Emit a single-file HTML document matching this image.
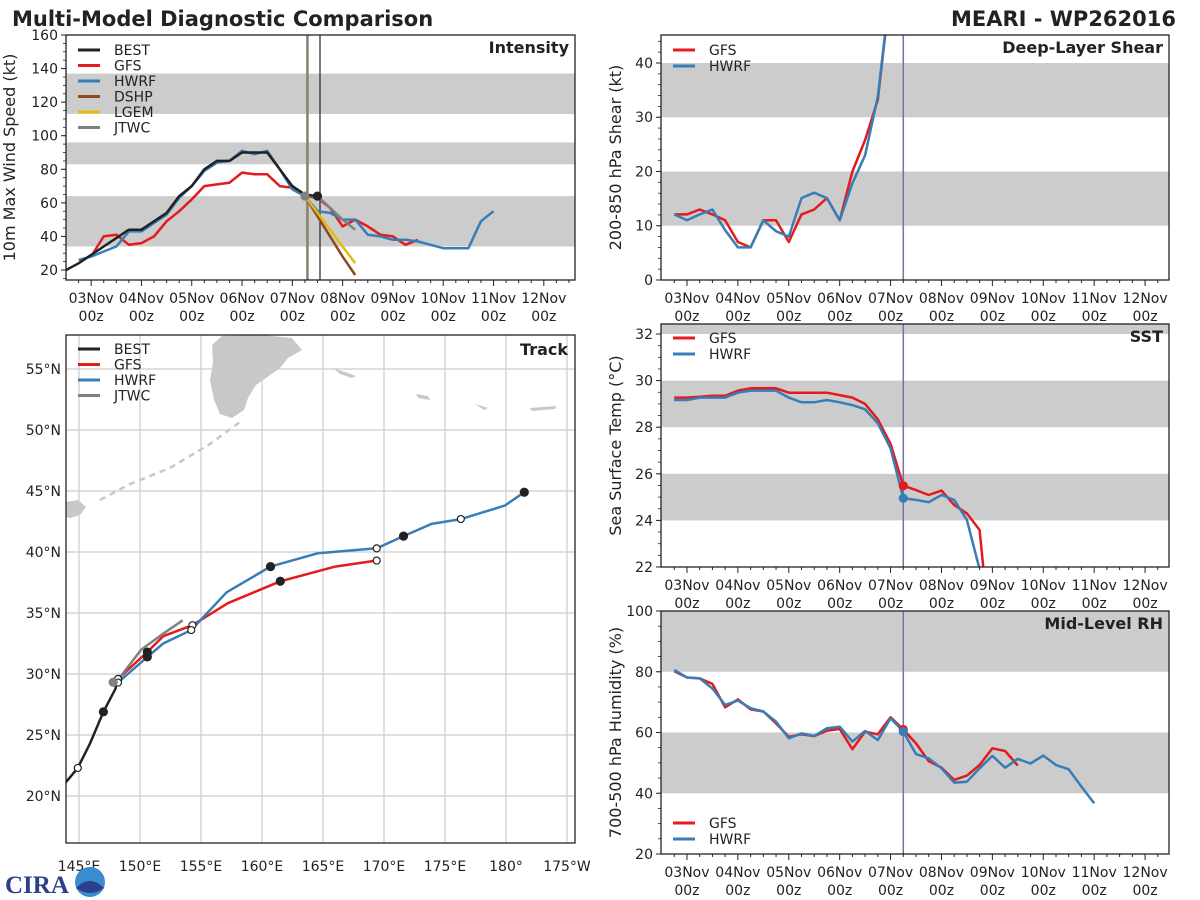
<!DOCTYPE html>
<html><head><meta charset="utf-8"><style>
html,body{margin:0;padding:0;background:#fff;}
svg{display:block;font-family:"DejaVu Sans","Liberation Sans",sans-serif;}
</style></head><body>
<svg id="fig" width="1200" height="900" viewBox="0 0 1200 900" xmlns="http://www.w3.org/2000/svg">
<text x="12" y="26" font-size="21" font-weight="bold" fill="#222">Multi-Model Diagnostic Comparison</text>
<text x="1176" y="26" font-size="21" font-weight="bold" fill="#222" text-anchor="end">MEARI - WP262016</text>
<g id="logo">
<text x="5" y="893" font-size="25" font-weight="bold" fill="#2b3f8a" font-family="Liberation Serif, serif">CIRA</text>
<circle cx="90" cy="882" r="15" fill="#3a8bd0"/>
<path d="M76 888 Q90 874 104 888 Q90 898 76 888Z" fill="#2b3f8a"/>
</g>
</svg>
<script>
// ---------- data ----------
const dayLabels=["03Nov","04Nov","05Nov","06Nov","07Nov","08Nov","09Nov","10Nov","11Nov","12Nov"];
const bestStart=-0.5;
const bestInt=[20,24,29,34,39,44,44,49,54,64,70,80,85,85,90,90,90,80,70,65,64];
const gfsIntStart=0;
const gfsInt=[28,40,41,35,36,40,49,55,62,70,71,72,78,77,77,70,69,64,63,57,46,50,46,41,40,35,38];
const hwrfIntStart=-0.25;
const hwrfInt=[26,28,31,34,43,43,48,53,63,70,79,84,85,91,89,91,80,68,64,55,54,50,50,41,40,38,38,37,35,33,33,33,49,55];
const fcstStart=4.25;
const dshpInt=[64,52,40,28,17];
const lgemInt=[64,54,44,34,24];
const jtwcInt=[64,64,57,50,44];
const intTicks=[20,40,60,80,100,120,140,160];
const shearStart=-0.25;
const gfsShear=[12.1,12.1,13.0,12.1,11.0,7.0,6.0,11.0,11.0,7.0,12.1,13.0,15.1,11.0,20.0,25.8,33.2,54];
const hwrfShear=[12.1,11.0,12.1,13.0,9.2,6.0,6.0,11.0,9.0,8.0,15.1,16.1,15.1,11.0,17.8,23.0,33.8,54];
const shearTicks=[0,10,20,30,40];
const sstStart=-0.25;
const gfsSst=[29.27,29.27,29.31,29.35,29.35,29.57,29.67,29.67,29.67,29.48,29.48,29.48,29.48,29.38,29.27,29.0,28.34,27.28,25.49,25.3,25.09,25.28,24.66,24.3,23.59,18];
const hwrfSst=[29.17,29.17,29.27,29.27,29.27,29.48,29.57,29.57,29.57,29.27,29.07,29.07,29.17,29.07,28.95,28.77,28.17,27.09,24.95,24.88,24.78,25.09,24.88,24.02,21.9];
const sstTicks=[22,24,26,28,30,32];
const rhStart=-0.25;
const gfsRh=[80.2,78.1,77.8,76.0,68.3,70.9,67.6,66.9,63.0,58.6,59.4,58.8,60.6,61.2,54.5,60.3,59.4,65.0,61.0,56.4,50.6,48.4,44.4,45.8,49.3,54.8,53.9,49.1];
const hwrfRh=[80.6,78.1,77.8,74.5,69.1,70.5,68.0,66.9,63.6,58.1,59.7,58.8,61.4,61.9,57.0,60.5,57.5,64.7,60.3,52.9,51.5,48.2,43.5,43.8,48.2,52.3,48.4,51.3,49.8,52.4,49.3,47.9,42.2,36.7];
const rhTicks=[20,40,60,80,100];
const bestLon=[143.9,144.9,145.9,147.0,148.0,148.1];
const bestLat=[21.1,22.3,24.3,26.9,28.8,29.5];
const gfsLon=[147.8,148.2,150.6,151.9,154.3,157.2,161.5,166.0,169.4];
const gfsLat=[29.2,29.6,31.8,33.1,34.0,35.8,37.6,38.8,39.3];
const hwrfLon=[148.2,150.6,151.9,154.2,157.1,160.7,164.6,169.4,171.6,173.9,176.3,179.9,181.5];
const hwrfLat=[29.3,31.4,32.5,33.6,36.7,38.8,39.9,40.3,41.3,42.3,42.7,43.8,44.9];
const jtwcLon=[147.8,150.1,151.9,153.5];
const jtwcLat=[29.0,32.0,33.3,34.4];
const latTicks=[20,25,30,35,40,45,50,55];
const lonTicks=[145,150,155,160,165,170,175,180,185];
const lonLabels=["145°E","150°E","155°E","160°E","165°E","170°E","175°E","180°","175°W"];

const NS="http://www.w3.org/2000/svg";
const svg=document.getElementById('fig');
function mk(tag,attrs,parent){const e=document.createElementNS(NS,tag);for(const k in attrs)e.setAttribute(k,attrs[k]);(parent||svg).appendChild(e);return e;}
const C={best:"#222222",gfs:"#e41a1c",hwrf:"#377eb8",dshp:"#8b4a1f",lgem:"#e8b90c",jtwc:"#808080",band:"#cccccc",vline:"#7a6fa8"};

function makePanel(o){
  const g=mk('g',{});
  
  
  const sx=d=>o.x0+(d-o.dmin)/(o.dmax-o.dmin)*(o.x1-o.x0);
  const sy=v=>o.y1-(v-o.vmin)/(o.vmax-o.vmin)*(o.y1-o.y0);
  const cid='clip-'+o.name;
  const cp=mk('clipPath',{id:cid},g);mk('rect',{x:o.x0,y:o.y0,width:o.x1-o.x0,height:o.y1-o.y0},cp);
  const inner=mk('g',{'clip-path':'url(#'+cid+')'},g);
  o.bands.forEach(b=>{
    const r=mk('rect',{x:o.x0,y:sy(b[1]),width:o.x1-o.x0,height:sy(b[0])-sy(b[1]),fill:C.band},inner);
    
    
  });
  o.yticks.forEach(t=>{
    mk('line',{x1:o.x0-5,x2:o.x0,y1:sy(t),y2:sy(t),stroke:'#222','stroke-width':1},g);
    const tx=mk('text',{x:o.x0-8,y:sy(t)+5,'font-size':14,'text-anchor':'end',fill:'#222'},g);
    tx.textContent=t;
    
    
  });
  let m0=Math.ceil(o.vmin/o.ymin)*o.ymin;
  for(let v=m0;v<=o.vmax+1e-6;v+=o.ymin){mk('line',{x1:o.x0-3,x2:o.x0,y1:sy(v),y2:sy(v),stroke:'#222','stroke-width':0.8},g);}
  for(let d=-0.25;d<=o.dmax;d+=0.25){
    const major=Math.abs(d-Math.round(d))<1e-6&&d>=0;
    mk('line',{x1:sx(d),x2:sx(d),y1:o.y1,y2:o.y1+(major?6:3),stroke:'#222','stroke-width':1},g);
  }
  dayLabels.forEach((lab,i)=>{
    const t1=mk('text',{x:sx(i),y:o.y1+23,'font-size':14,'text-anchor':'middle',fill:'#222'},g);t1.textContent=lab;
    
    
    const t2=mk('text',{x:sx(i),y:o.y1+41,'font-size':14,'text-anchor':'middle',fill:'#222'},g);t2.textContent="00z";
    
    
  });
  const yt=mk('text',{x:0,y:0,'font-size':16,'text-anchor':'middle',fill:'#222',transform:`translate(${o.ytx},${(o.y0+o.y1)/2}) rotate(-90)`},g);
  yt.textContent=o.ytitle;
  
  
  const pt=mk('text',{x:o.x1-6,y:o.y0+18,'font-size':16,'font-weight':'bold','text-anchor':'end',fill:'#222'},g);
  pt.textContent=o.title;
  
  
  return {g,inner,sx,sy,o};
}
function series(P,start,vals,color,name,w){
  const pts=vals.map((v,i)=>P.sx(start+i*0.25).toFixed(1)+','+P.sy(v).toFixed(1)).join(' ');
  const pl=mk('polyline',{points:pts,fill:'none',stroke:color,'stroke-width':w||2.5,'stroke-linejoin':'round'},P.inner);
  
  
  return pl;
}
function frame(P){mk('rect',{x:P.o.x0,y:P.o.y0,width:P.o.x1-P.o.x0,height:P.o.y1-P.o.y0,fill:'none',stroke:'#222','stroke-width':1.3},P.g);}
function legend(parent,x,y,items,step){
  items.forEach((it,i)=>{
    const gg=mk('g',{},parent);
    
    
    mk('line',{x1:x,x2:x+22,y1:y+i*step,y2:y+i*step,stroke:it[1],'stroke-width':3},gg);
    const t=mk('text',{x:x+36,y:y+i*step+5,'font-size':14,fill:'#222'},gg);t.textContent=it[0];
  });
}
function dot(P,parent,x,y,color,open,name){
  const c=mk('circle',{cx:x,cy:y,r:open?3.5:4,fill:open?'#fff':color,stroke:open?'#222':color,'stroke-width':1.2},parent);
  
  
}

const PI=makePanel({name:'intensity-panel',x0:66,x1:575,y0:35,y1:280,dmin:-0.5,dmax:9.62,vmin:14.04,vmax:160,ymin:5,yticks:intTicks,bands:[[34,64],[83,96],[113,137]],ytitle:'10m Max Wind Speed (kt)',ytx:15,title:'Intensity'});
mk('line',{x1:PI.sx(4.3),x2:PI.sx(4.3),y1:35,y2:280,stroke:'#8a7f70','stroke-width':2.5},PI.inner);
mk('line',{x1:PI.sx(4.55),x2:PI.sx(4.55),y1:35,y2:280,stroke:'#222','stroke-width':1.2},PI.inner);
series(PI,gfsIntStart,gfsInt,C.gfs,'gfs-intensity-line');
series(PI,hwrfIntStart,hwrfInt,C.hwrf,'hwrf-intensity-line');
series(PI,fcstStart,dshpInt,C.dshp,'dshp-intensity-line');
series(PI,fcstStart,lgemInt,C.lgem,'lgem-intensity-line');
series(PI,fcstStart,jtwcInt,C.jtwc,'jtwc-intensity-line');
series(PI,bestStart,bestInt,C.best,'best-intensity-line');
dot(PI,PI.inner,PI.sx(4.25),PI.sy(jtwcInt[0]),C.jtwc,false,'jtwc-initial-point');
dot(PI,PI.inner,PI.sx(4.5),PI.sy(bestInt[bestInt.length-1]),C.best,false,'best-latest-point');
frame(PI);
legend(PI.g,78,50,[["BEST",C.best],["GFS",C.gfs],["HWRF",C.hwrf],["DSHP",C.dshp],["LGEM",C.lgem],["JTWC",C.jtwc]],15.5);

const R={x0:661,x1:1169,dmin:-0.51,dmax:9.47};
const PS=makePanel(Object.assign({name:'shear-panel',y0:35,y1:280,vmin:0,vmax:45.16,ymin:2,yticks:shearTicks,bands:[[10,20],[30,40]],ytitle:'200-850 hPa Shear (kt)',ytx:621,title:'Deep-Layer Shear'},R));
mk('line',{x1:PS.sx(4.25),x2:PS.sx(4.25),y1:35,y2:280,stroke:C.vline,'stroke-width':1.5},PS.inner);
series(PS,shearStart,gfsShear,C.gfs,'gfs-shear-line');
series(PS,shearStart,hwrfShear,C.hwrf,'hwrf-shear-line');
frame(PS);
legend(PS.g,673,50,[["GFS",C.gfs],["HWRF",C.hwrf]],16);

const PT=makePanel(Object.assign({name:'sst-panel',y0:324,y1:567,vmin:22,vmax:32.43,ymin:0.5,yticks:sstTicks,bands:[[24,26],[28,30],[32,34]],ytitle:'Sea Surface Temp (°C)',ytx:621,title:'SST'},R));
mk('line',{x1:PT.sx(4.25),x2:PT.sx(4.25),y1:324,y2:567,stroke:C.vline,'stroke-width':1.5},PT.inner);
series(PT,sstStart,gfsSst,C.gfs,'gfs-sst-line');
series(PT,sstStart,hwrfSst,C.hwrf,'hwrf-sst-line');
dot(PT,PT.inner,PT.sx(4.25),PT.sy(gfsSst[18]),C.gfs,false,'gfs-sst-marker');
dot(PT,PT.inner,PT.sx(4.25),PT.sy(hwrfSst[18]),C.hwrf,false,'hwrf-sst-marker');
frame(PT);
legend(PT.g,673,338,[["GFS",C.gfs],["HWRF",C.hwrf]],16);

const PR=makePanel(Object.assign({name:'rh-panel',y0:611,y1:854,vmin:20,vmax:100,ymin:5,yticks:rhTicks,bands:[[40,60],[80,100]],ytitle:'700-500 hPa Humidity (%)',ytx:621,title:'Mid-Level RH'},R));
mk('line',{x1:PR.sx(4.25),x2:PR.sx(4.25),y1:611,y2:854,stroke:C.vline,'stroke-width':1.5},PR.inner);
series(PR,rhStart,gfsRh,C.gfs,'gfs-rh-line');
series(PR,rhStart,hwrfRh,C.hwrf,'hwrf-rh-line');
dot(PR,PR.inner,PR.sx(4.25),PR.sy(gfsRh[18]),C.gfs,false,'gfs-rh-marker');
dot(PR,PR.inner,PR.sx(4.25),PR.sy(hwrfRh[18]),C.hwrf,false,'hwrf-rh-marker');
frame(PR);
legend(PR.g,673,823,[["GFS",C.gfs],["HWRF",C.hwrf]],16);

const TK={x0:66,x1:575,y0:335,y1:843};
const lx=lon=>79+(lon-145)*12.2;
const ly=lat=>369+(55-lat)*12.2;
const tg=mk('g',{});


const tcp=mk('clipPath',{id:'clip-track'},tg);mk('rect',{x:TK.x0,y:TK.y0,width:TK.x1-TK.x0,height:TK.y1-TK.y0},tcp);
const ti=mk('g',{'clip-path':'url(#clip-track)'},tg);
const land=mk('g',{fill:'#c8c8c8',stroke:'none'},ti);


mk('path',{d:'M212 345 L222 336 L262 335 L292 338 L302 350 L288 358 L280 368 L266 378 L256 385 L248 398 L244 410 L232 418 L220 414 L214 400 L210 380 L213 362Z'},land);
mk('path',{d:'M66 502 L78 500 L86 507 L80 515 L70 518 L66 517Z'},land);
mk('path',{d:'M100 500 L130 484 L170 468 L210 444 L240 422',fill:'none',stroke:'#c8c8c8','stroke-width':2.5,'stroke-dasharray':'6 5'},land);
mk('path',{d:'M333 368 L345 372 L356 376 L352 378 L340 374Z'},land);
mk('path',{d:'M416 394 L428 396 L430 400 L418 398Z'},land);
mk('path',{d:'M475 404 L488 408 L484 410 Z M530 408 L556 406 L555 409 L532 411Z'},land);
latTicks.forEach(l=>{mk('line',{x1:TK.x0,x2:TK.x1,y1:ly(l),y2:ly(l),stroke:'#cccccc','stroke-width':1.2},ti);
  const t=mk('text',{x:TK.x0-5,y:ly(l)+5,'font-size':14,'text-anchor':'end',fill:'#222'},tg);t.textContent=l+'°N';
  
  });
lonTicks.forEach((l,i)=>{mk('line',{x1:lx(l),x2:lx(l),y1:TK.y0,y2:TK.y1,stroke:'#cccccc','stroke-width':1.2},ti);
  const t=mk('text',{x:lx(l),y:871,'font-size':14,'text-anchor':'middle',fill:'#222'},tg);t.textContent=lonLabels[i];
  
  });
function track(lons,lats,color,name){
  const pts=lons.map((v,i)=>lx(v).toFixed(1)+','+ly(lats[i]).toFixed(1)).join(' ');
  const pl=mk('polyline',{points:pts,fill:'none',stroke:color,'stroke-width':2.5,'stroke-linejoin':'round'},ti);
  
  
}
track(gfsLon,gfsLat,C.gfs,'gfs-track');
track(hwrfLon,hwrfLat,C.hwrf,'hwrf-track');
track(jtwcLon,jtwcLat,C.jtwc,'jtwc-track');
track(bestLon,bestLat,C.best,'best-track');
[[1,true],[3,false]].forEach(p=>dot(null,ti,lx(bestLon[p[0]]),ly(bestLat[p[0]]),C.best,p[1],'best-track-point'));
[[1,true],[2,false],[4,true],[6,false],[8,true]].forEach(p=>dot(null,ti,lx(gfsLon[p[0]]),ly(gfsLat[p[0]]),'#222',p[1],'gfs-track-point'));
[[0,true],[1,false],[3,true],[5,false],[7,true],[8,false],[10,true],[12,false]].forEach(p=>dot(null,ti,lx(hwrfLon[p[0]]),ly(hwrfLat[p[0]]),'#222',p[1],'hwrf-track-point'));
dot(null,ti,lx(jtwcLon[0]),ly(jtwcLat[0])-4,C.jtwc,false,'jtwc-track-point');
mk('rect',{x:TK.x0,y:TK.y0,width:TK.x1-TK.x0,height:TK.y1-TK.y0,fill:'none',stroke:'#222','stroke-width':1.3},tg);
const ttl=mk('text',{x:568,y:355,'font-size':16,'font-weight':'bold','text-anchor':'end',fill:'#222'},tg);ttl.textContent='Track';


legend(tg,78,349,[["BEST",C.best],["GFS",C.gfs],["HWRF",C.hwrf],["JTWC",C.jtwc]],15.5);
svg.appendChild(document.getElementById('logo'));
</script>
</body></html>
